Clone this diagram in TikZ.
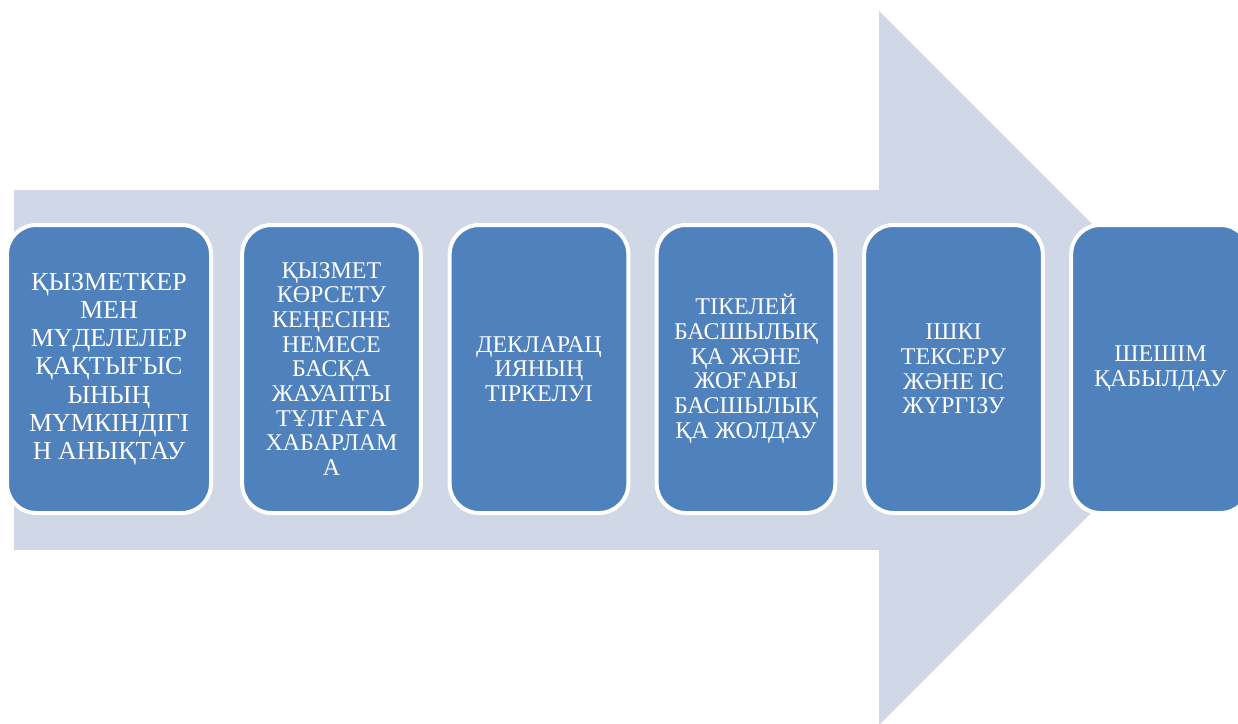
\documentclass[tikz,border=0pt]{standalone}
\usepackage{fontspec}
\setmainfont{Liberation Serif}
\definecolor{arrowgray}{HTML}{D0D8E8}
\definecolor{cardblue}{HTML}{4F81BD}
\tikzset{
    stepcard/.style={draw=white, line width=3pt, fill=cardblue, rounded corners=22pt,
        text=white, align=center, minimum width=134pt, minimum height=216pt,
        inner sep=2pt, font=\fontsize{18}{18.5}\selectfont},
}
\begin{document}
\begin{tikzpicture}[x=0.75pt, y=-0.75pt]

    % Fix the page to the reference size (pixels)
    \useasboundingbox (0,0) rectangle (1238,724);
    \clip (0,0) rectangle (1238,724);

    % Big background arrow
    \fill[arrowgray] (14,190) -- (879,190) -- (879,11) -- (1236,368)
        -- (879,725) -- (879,550) -- (14,550) -- cycle;

    % The six steps
    \node[stepcard, minimum width=153pt, font=\fontsize{19.5}{21.2}\selectfont] (detect) at (109,369)
        {ҚЫЗМЕТКЕР\\МЕН\\МҮДЕЛЕЛЕР\\ҚАҚТЫҒЫС\\ЫНЫҢ\\МҮМКІНДІГІ\\Н АНЫҚТАУ};
    \node[stepcard] (notify) at (331.5,369)
        {ҚЫЗМЕТ\\КӨРСЕТУ\\КЕҢЕСІНЕ\\НЕМЕСЕ\\БАСҚА\\ЖАУАПТЫ\\ТҰЛҒАҒА\\ХАБАРЛАМ\\А};
    \node[stepcard] (register) at (539,369)
        {ДЕКЛАРАЦ\\ИЯНЫҢ\\ТІРКЕЛУІ};
    \node[stepcard] (forward) at (746,369)
        {ТІКЕЛЕЙ\\БАСШЫЛЫҚ\\ҚА ЖӘНЕ\\ЖОҒАРЫ\\БАСШЫЛЫҚ\\ҚА ЖОЛДАУ};
    \node[stepcard] (inspect) at (953.5,369)
        {ІШКІ\\ТЕКСЕРУ\\ЖӘНЕ ІС\\ЖҮРГІЗУ};
    \node[stepcard] (decide) at (1160.5,369)
        {ШЕШІМ\\ҚАБЫЛДАУ};

\end{tikzpicture}
\end{document}
